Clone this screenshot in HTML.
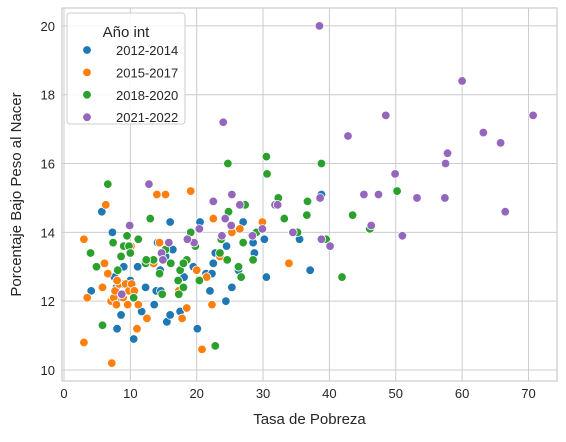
<!DOCTYPE html>
<html><head><meta charset="utf-8"><style>
body{margin:0;background:#fff;font-family:"Liberation Sans","DejaVu Sans",sans-serif}
</style></head><body>
<svg id="chart" width="566" height="437" xmlns="http://www.w3.org/2000/svg" font-family="Liberation Sans, DejaVu Sans, sans-serif"></svg>
<script>
const xTicks=[0,10,20,30,40,50,60,70];
const yTicks=[10,12,14,16,18,20];
const seriesNames=["2012-2014","2015-2017","2018-2020","2021-2022"];
const seriesColors=["#1f77b4","#ff7f0e","#2ca02c","#9467bd"];
const blueX=[5.7,7.3,16,14.1,22.6,27,30.5,37.1,38.8,28.5,46,7.9,8.4,8,10.5,9,10,13.9,15.5,16,20.1,24.4,22.5,19.5,14.6,20.5,22.8,26.3,24.5,30.2,18.1,12.4,11.1,7.6,4.1,8.8,13.6,17.5,21.4,14.5,15.3,16.4,11.7,8.6,12.3,10,22,28.7,22.3,35.5,25.3];
const blueY=[14.6,14,14.3,13.7,14.9,14.3,12.7,12.9,15.1,13.7,14.1,12.4,12.1,11.2,10.9,13,12.6,12.3,11.4,11.6,11.2,12,13.1,13,12.3,14.3,13.4,12.9,13.6,13.8,12.7,13.2,13,12.7,12.3,12.5,11.9,11.7,12.8,12.9,13.3,13.5,11.7,11.6,12.4,13.5,12.3,13.4,12.8,13.8,12.4];
const orangeX=[3,3.5,3,6.3,5.8,6.1,6.6,7.1,7.2,7.5,7.7,7.9,8.3,8.9,9.3,9.8,10.1,10.2,11.2,12.5,13.5,14,14.4,15.3,19.1,17.3,17.8,18.5,20,20.8,21.5,22.3,22.5,23.5,25.3,26.5,29.9,33.9,10.6,8,9.6,11];
const orangeY=[13.8,12.1,10.8,14.8,12.4,13.1,12.8,12,10.2,12.1,12.3,11.9,12.5,12.1,12.5,12.3,13.6,12.5,11.9,11.5,13.1,15.1,13.7,15.1,15.2,12.3,11.5,11.8,12.9,10.6,12.7,11.9,14.4,13.3,14,14.1,14.3,13.1,12.3,12.6,11.9,11.2];
const greenX=[6.6,4,4.9,5.8,7.4,8.1,8.6,9,9.8,10.5,10,11.2,12.3,13,13.5,14.4,14.8,15.3,16.1,17.2,17.5,18,19.1,22.8,23.5,24.7,24.8,27.3,30.5,30.6,32.3,33.2,36.7,36.6,38.8,39,39.5,41.9,43.5,50.2,46.1,35.2,29,28.5,27,23.7,26.7,26.3,24.6,18.5,20.4,19.8,12.4,17.3,9.5,18];
const greenY=[15.4,13.4,13,11.3,13.7,12.9,13.3,13.6,13.6,12.1,13.4,13.8,13.1,14.4,13.2,12.8,12.2,13.5,13.1,12.6,12.9,12.4,14,10.7,13.4,16,14.6,14.8,16.2,15.7,15,14.4,14.9,14.5,16,13.8,13.8,12.7,14.5,15.2,14.1,14,14,13.2,13.7,13.8,12.7,13,13.2,13.2,12.6,13.6,13.2,12.2,13.9,13.1];
const purpleX=[38.5,60,48.5,70.7,24,42.8,57.8,63.2,65.8,57.5,49.9,12.8,45.2,47.4,25.3,53.2,57.4,38.6,22.5,26.5,31.8,32.2,46.3,51,40.1,66.5,34.5,38.8,9.9,15.8,24.3,23.8,25.2,28.4,19.6,18.6,20.4,14.7,14.9,29.9,8.7];
const purpleY=[20,18.4,17.4,17.4,17.2,16.8,16.3,16.9,16.6,16,15.7,15.4,15.1,15.1,15.1,15,15,15,14.9,14.8,14.8,14.8,14.2,13.9,13.6,14.6,14,13.8,14.2,13.7,14.4,13.9,14.2,13.9,13.7,13.8,14.1,13.4,13.2,14.1,12.2];
const seriesX=[blueX,orangeX,greenX,purpleX];
const seriesY=[blueY,orangeY,greenY,purpleY];

const NS="http://www.w3.org/2000/svg";
const svg=document.getElementById('chart');
const L=62,R=557,T=8,B=381;
const xMin=-0.3,xMax=74.3,yMin=9.68,yMax=20.52;
const sx=v=>L+(v-xMin)/(xMax-xMin)*(R-L);
const sy=v=>B-(v-yMin)/(yMax-yMin)*(B-T);
function mk(tag,attrs,parent){const e=document.createElementNS(NS,tag);for(const k in attrs)e.setAttribute(k,attrs[k]);(parent||svg).appendChild(e);return e;}
const grid=mk('g',{});


xTicks.forEach(t=>{
  mk('line',{x1:sx(t),x2:sx(t),y1:T,y2:B,stroke:'#cccccc','stroke-width':1},grid);
  const tx=mk('text',{x:sx(t),y:B+17,'text-anchor':'middle','font-size':13,fill:'#262626'});
  
  
  tx.textContent=t;
});
yTicks.forEach(t=>{
  mk('line',{x1:L,x2:R,y1:sy(t),y2:sy(t),stroke:'#cccccc','stroke-width':1},grid);
  const tx=mk('text',{x:L-7,y:sy(t)+5,'text-anchor':'end','font-size':13,fill:'#262626'});
  
  
  tx.textContent=t;
});
const frame=mk('rect',{x:L,y:T,width:R-L,height:B-T,fill:'none',stroke:'#cccccc','stroke-width':1.2});


seriesX.forEach((xs,s)=>{
  const g=mk('g',{});
  
  
  xs.forEach((x,i)=>{
    const c=mk('circle',{cx:sx(x),cy:sy(seriesY[s][i]),r:4.3,fill:seriesColors[s],stroke:'#fff','stroke-width':0.8},g);
    
    
  });
});
const xt=mk('text',{x:(L+R)/2,y:424,'text-anchor':'middle','font-size':15,fill:'#262626'});


xt.textContent='Tasa de Pobreza';
const yt=mk('text',{x:0,y:0,'text-anchor':'middle','font-size':15,fill:'#262626',transform:`translate(21,${(T+B)/2}) rotate(-90)`});


yt.textContent='Porcentaje Bajo Peso al Nacer';
const lg=mk('g',{});


mk('rect',{x:67,y:13,width:118,height:111,rx:3,fill:'#fff','fill-opacity':0.85,stroke:'#cccccc'},lg);
const ltitle=mk('text',{x:126,y:37,'text-anchor':'middle','font-size':15,fill:'#262626'},lg);


ltitle.textContent='Año int';
seriesNames.forEach((n,i)=>{
  const y=50+i*22.4;
  const e=mk('g',{},lg);
  
  
  mk('circle',{cx:87,cy:y,r:4.3,fill:seriesColors[i],stroke:'#fff','stroke-width':0.8},e);
  const t=mk('text',{x:116,y:y+5,'font-size':13,fill:'#262626'},e);
  t.textContent=n;
});
</script>
</body></html>
